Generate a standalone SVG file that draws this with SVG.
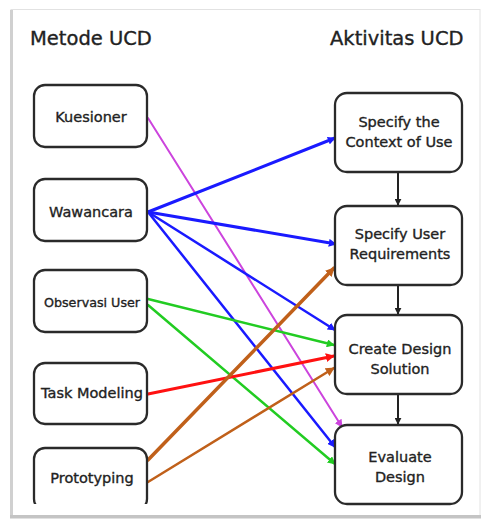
<svg xmlns="http://www.w3.org/2000/svg" width="482" height="523" viewBox="0 0 482 523">
<style>
.box{fill:#fff;stroke:#2a2a2a;stroke-width:2.3}
.t{font-family:"DejaVu Sans",sans-serif;fill:#222;stroke:#222;stroke-width:0.35;text-anchor:middle}
.n{font-size:14.5px}
.h{font-size:19.5px;text-anchor:start}
</style>
<defs>
<marker id="ab" viewBox="0 0 10 10" refX="9" refY="5" markerWidth="8" markerHeight="8" markerUnits="userSpaceOnUse" orient="auto"><path d="M0,0L10,5L0,10z" fill="#1a1aff"/></marker>
<marker id="am" viewBox="0 0 10 10" refX="9" refY="5" markerWidth="8" markerHeight="8" markerUnits="userSpaceOnUse" orient="auto"><path d="M0,0L10,5L0,10z" fill="#cc44dd"/></marker>
<marker id="ag" viewBox="0 0 10 10" refX="9" refY="5" markerWidth="8" markerHeight="8" markerUnits="userSpaceOnUse" orient="auto"><path d="M0,0L10,5L0,10z" fill="#22cc22"/></marker>
<marker id="ar" viewBox="0 0 10 10" refX="9" refY="5" markerWidth="9" markerHeight="9" markerUnits="userSpaceOnUse" orient="auto"><path d="M0,0L10,5L0,10z" fill="#ff1111"/></marker>
<marker id="ao" viewBox="0 0 10 10" refX="9" refY="5" markerWidth="9" markerHeight="9" markerUnits="userSpaceOnUse" orient="auto"><path d="M0,0L10,5L0,10z" fill="#c0601a"/></marker>
<marker id="ak" viewBox="0 0 10 10" refX="9" refY="5" markerWidth="7" markerHeight="7" markerUnits="userSpaceOnUse" orient="auto"><path d="M0,0L10,5L0,10z" fill="#222"/></marker>
<clipPath id="clip"><rect x="12" y="10" width="467" height="494"/></clipPath>
</defs>
<rect width="482" height="523" fill="#fff"/>
<g id="frame">
<rect x="11" y="9.5" width="469" height="507" fill="#fff" stroke="#e2e2e2" stroke-width="1"/>
<rect x="10" y="10" width="3" height="508" fill="#d0d0d0"/>
<rect x="10" y="515" width="471" height="3.5" fill="#c4c4c4"/>
</g>
<text class="t h" x="30" y="45">Metode UCD</text>
<text class="t h" x="330" y="45">Aktivitas UCD</text>
<g id="connectors" fill="none" stroke-linecap="round">
<line x1="148" y1="118" x2="342" y2="427" stroke="#cc44dd" stroke-width="2" marker-end="url(#am)"/>
<line x1="148" y1="212" x2="335" y2="138" stroke="#1a1aff" stroke-width="3" marker-end="url(#ab)"/>
<line x1="148" y1="212" x2="336" y2="244" stroke="#1a1aff" stroke-width="3" marker-end="url(#ab)"/>
<line x1="148" y1="212" x2="335" y2="330" stroke="#1a1aff" stroke-width="2.5" marker-end="url(#ab)"/>
<line x1="148" y1="212" x2="335" y2="447" stroke="#1a1aff" stroke-width="2.5" marker-end="url(#ab)"/>
<line x1="148" y1="299" x2="334" y2="345" stroke="#22cc22" stroke-width="2.5" marker-end="url(#ag)"/>
<line x1="148" y1="305" x2="335" y2="464" stroke="#22cc22" stroke-width="2.5" marker-end="url(#ag)"/>
<line x1="148" y1="394" x2="334" y2="356" stroke="#ff1111" stroke-width="3" marker-end="url(#ar)"/>
<line x1="148" y1="460" x2="334" y2="268" stroke="#c0601a" stroke-width="3.5" marker-end="url(#ao)"/>
<line x1="148" y1="482" x2="334" y2="368" stroke="#c0601a" stroke-width="2.5" marker-end="url(#ao)"/>
<line x1="398" y1="173" x2="398" y2="205" stroke="#222" stroke-width="2" marker-end="url(#ak)"/>
<line x1="398" y1="286" x2="398" y2="314" stroke="#222" stroke-width="2" marker-end="url(#ak)"/>
<line x1="398" y1="395" x2="398" y2="424" stroke="#222" stroke-width="2" marker-end="url(#ak)"/>
</g>
<g id="kuesioner"><rect class="box" x="34" y="85" width="113" height="62" rx="11"/><text class="t n" x="91" y="122">Kuesioner</text></g>
<g id="wawancara"><rect class="box" x="34" y="179" width="113" height="62" rx="11"/><text class="t n" x="91" y="217">Wawancara</text></g>
<g id="observasi"><rect class="box" x="34" y="270" width="113" height="62" rx="11"/><text class="t" x="92" y="307" font-size="12.7px">Observasi User</text></g>
<g id="taskmodeling"><rect class="box" x="34" y="363" width="113" height="61" rx="11"/><text class="t n" x="92" y="398">Task Modeling</text></g>
<g id="prototyping" clip-path="url(#clip)"><rect class="box" x="34" y="448" width="113" height="62" rx="11"/><text class="t n" x="92" y="483">Prototyping</text></g>
<g id="context"><rect class="box" x="335" y="93" width="127" height="79" rx="12"/><text class="t n" x="399" y="127">Specify the</text><text class="t n" x="399" y="147">Context of Use</text></g>
<g id="requirements"><rect class="box" x="335" y="206" width="127" height="79" rx="12"/><text class="t n" x="400" y="239">Specify User</text><text class="t n" x="400" y="259">Requirements</text></g>
<g id="design"><rect class="box" x="335" y="315" width="127" height="79" rx="12"/><text class="t n" x="400" y="354">Create Design</text><text class="t n" x="400" y="374">Solution</text></g>
<g id="evaluate"><rect class="box" x="335" y="425" width="127" height="79" rx="12"/><text class="t n" x="400" y="462">Evaluate</text><text class="t n" x="400" y="482">Design</text></g>
</svg>
